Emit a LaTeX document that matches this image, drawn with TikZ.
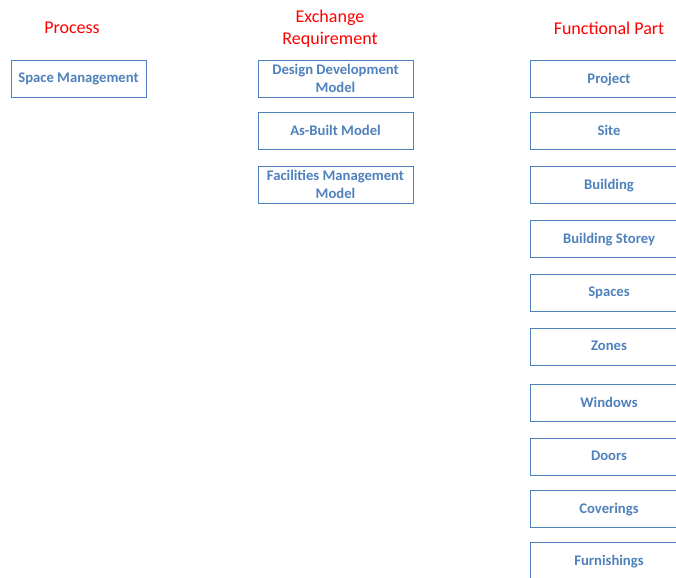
\documentclass[tikz,border=0pt]{standalone}
\usepackage{fontspec}
\setmainfont{Carlito}
\definecolor{boxblue}{HTML}{4F81BD}
\definecolor{titlered}{HTML}{FF0000}
\begin{document}
\begin{tikzpicture}[x=0.75pt,y=-0.75pt,
  fbox/.style={draw=boxblue,line width=0.75pt,fill=white,inner sep=0pt,font=\fontsize{11}{13.2}\selectfont\bfseries,text=boxblue,align=center,text depth=0.5pt},
  title/.style={font=\fontsize{13.5}{16.5}\selectfont,text=titlered,align=center}]
\useasboundingbox (0,0) rectangle (676,578);
\clip (0,0) rectangle (676,578);
\node[title] (t1) at (72,28) {Process};
\node[title] (t2) at (330,29) {Exchange\\Requirement};
\node[title] (t3) at (609,28) {Functional Part};
\node[fbox,minimum width=101.25pt,minimum height=27.75pt] (sm) at (78.5,78.5) {Space Management};
\node[fbox,minimum width=116.25pt,minimum height=27.75pt] (dd) at (335.5,78.5) {Design Development\\Model};
\node[fbox,minimum width=116.25pt,minimum height=27.75pt] (ab) at (335.5,130.5) {As-Built Model};
\node[fbox,minimum width=116.25pt,minimum height=27.75pt] (fm) at (335.5,184.5) {Facilities Management\\Model};
\foreach \n/\y/\t in {p/78.5/Project, s/130.5/Site, b/184.5/Building, bs/238.5/Building Storey, sp/292.5/Spaces, z/346.5/Zones, w/402.5/Windows, d/456.5/Doors, c/508.5/Coverings, f/560.5/Furnishings}
  \node[fbox,minimum width=118.5pt,minimum height=27.75pt] (\n) at (609,\y) {\t};
\end{tikzpicture}
\end{document}
